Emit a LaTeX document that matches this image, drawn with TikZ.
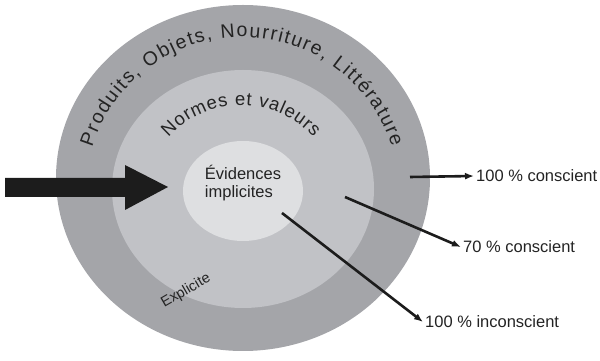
\documentclass[tikz,border=0pt]{standalone}
\usepackage{fontspec}
\setmainfont{Liberation Sans}
\usetikzlibrary{decorations.text, arrows.meta}
\definecolor{ringaussen}{RGB}{164,165,169}
\definecolor{ringmitte}{RGB}{193,194,198}
\definecolor{ringinnen}{RGB}{222,223,225}
\definecolor{schrift}{RGB}{35,35,35}
\definecolor{pfeilfarbe}{RGB}{28,28,28}

\begin{document}
\begin{tikzpicture}[x=1pt, y=1pt,
	pfeil/.style={draw=pfeilfarbe, line width=2.6pt, -{Latex[length=9pt, width=7pt]}},
	etikett/.style={anchor=west, inner sep=2pt, text=schrift, font=\fontsize{16.5}{18}\selectfont}]
	\useasboundingbox (0,0) rectangle (600,361);
	% aeusserer ring
	\fill[ringaussen] (243,183) ellipse [x radius=187, y radius=173];
	% mittlerer ring
	\fill[ringmitte] (243,172) ellipse [x radius=131, y radius=119];
	% innerer kreis
	\fill[ringinnen] (243,170) ellipse [x radius=60, y radius=50];
	% schrift auf dem aeusseren ring
	\path[decorate, decoration={text along path, text align={fit to path}, text color=schrift,
		text={|\fontsize{19.5}{20}\selectfont|Produits, Objets, Nourriture, Littérature}}]
		(242,167) ++(162.6:157) arc [start angle=162.6, end angle=17.4, radius=157];
	% schrift auf dem mittleren ring
	\path[decorate, decoration={text along path, text align={fit to path}, text color=schrift,
		text={|\fontsize{18.5}{19}\selectfont|Normes et valeurs}}]
		(241,159) ++(138.3:97) arc [start angle=138.3, end angle=41.7, radius=97];
	% innen und unten
	\node[align=left, text=schrift, font=\fontsize{16.5}{18}\selectfont] (evidences)
		at (243,178) {Évidences\\implicites};
	\node[rotate=30, text=schrift, font=\fontsize{14.5}{15}\selectfont] (explicite)
		at (186,70) {Explicite};
	% der dicke pfeil
	\fill[pfeilfarbe] (5,183) -- (125,183) -- (125,196) -- (168,174)
		-- (125,151) -- (125,164) -- (5,164) -- cycle;
	% pfeile nach rechts
	\coordinate (aussenpunkt) at (410,184);
	\coordinate (mittepunkt) at (345,164);
	\coordinate (innenpunkt) at (282,148);
	\node[etikett] (bewusst) at (474,185) {100 \% conscient};
	\node[etikett] (teilbewusst) at (461,114) {70 \% conscient};
	\node[etikett] (unbewusst) at (423,39) {100 \% inconscient};
	\draw[pfeil] (aussenpunkt) -- (bewusst.west);
	\draw[pfeil] (mittepunkt) -- (teilbewusst.west);
	\draw[pfeil] (innenpunkt) -- (unbewusst.west);
\end{tikzpicture}
\end{document}
